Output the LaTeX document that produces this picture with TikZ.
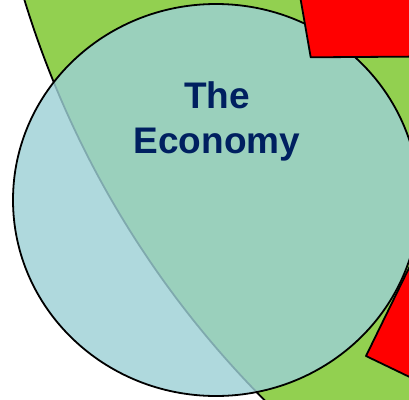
\documentclass[tikz,border=0pt]{standalone}
\usepackage{fontspec}
\setmainfont{Liberation Sans}
\definecolor{leafgreen}{RGB}{146,208,80}
\definecolor{poolblue}{RGB}{157,209,214}
\definecolor{navy}{RGB}{0,32,96}
\begin{document}
\begin{tikzpicture}
        [x=1pt,y=-1pt,
         outline/.style={draw=black,line width=1.8pt,line join=round},
         economy/.style={outline,fill=poolblue,fill opacity=0.81}]
        \useasboundingbox (0,0) rectangle (409,399);
        \clip (0,0) rectangle (409,399);
        \fill[white] (0,0) rectangle (409,399);
        \draw[outline,fill=leafgreen] (954,-285) circle [radius=972];
        \draw[economy] (216,200) ellipse [x radius=203,y radius=196];
        \draw[outline,fill=red] (299,-10) -- (310.7,57.3) -- (430,56.5) -- (430,-10) -- cycle;
        \draw[outline,fill=red] (417.8,250) -- (366,356) -- (430,386.8) -- (440,250) -- cycle;
        \node[text=navy,font=\bfseries\fontsize{37}{45}\selectfont,align=center,inner sep=0pt] (title) at (217,121) {The\\Economy};
    \end{tikzpicture}
\end{document}
